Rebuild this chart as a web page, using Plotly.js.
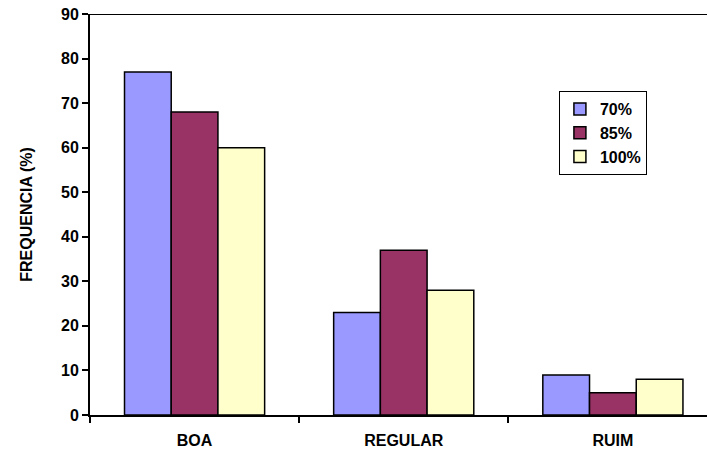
<!DOCTYPE html>
<html>
<head>
<meta charset="utf-8">
<script src="https://cdn.plot.ly/plotly-3.0.1.min.js"></script>
<style>html,body{margin:0;padding:0;background:#fff;}#chart{width:707px;height:457px;}</style>
</head>
<body>
<div id="chart"></div>
<script>
var categories = ["BOA", "REGULAR", "RUIM"];
var seriesNames = ["70%", "85%", "100%"];
var values70 = [77, 23, 9];
var values85 = [68, 37, 5];
var values100 = [60, 28, 8];
var colors = ["#9999FF", "#993366", "#FFFFCC"];
var yTicks = [0, 10, 20, 30, 40, 50, 60, 70, 80, 90];

var allValues = [values70, values85, values100];
var traces = allValues.map(function (v, i) {
  return {
    type: "bar",
    name: seriesNames[i],
    x: categories,
    y: v,
    marker: { color: colors[i], line: { color: "#000", width: 1.5 } },
    hoverinfo: "none"
  };
});

var font = { family: "Liberation Sans, Arial, sans-serif", size: 16, color: "#000", weight: "bold" };

var layout = {
  width: 707,
  height: 457,
  margin: { l: 90, r: 0, t: 14, b: 42, pad: 0 },
  paper_bgcolor: "#fff",
  plot_bgcolor: "#fff",
  barmode: "group",
  bargap: 0.33,
  bargroupgap: 0,
  font: font,
  showlegend: true,
  legend: {
    x: 0.76, y: 0.808, xanchor: "left", yanchor: "top",
    bordercolor: "#000", borderwidth: 1, bgcolor: "#fff",
    font: { family: "Liberation Sans, Arial, sans-serif", size: 16, color: "#000", weight: "bold" },
    tracegroupgap: 0,
    itemwidth: 30
  },
  xaxis: {
    type: "category",
    range: [-0.5, 2.45],
    showline: true, linecolor: "#000", linewidth: 2,
    ticks: "outside", ticklen: 6, tickwidth: 2, tickcolor: "#000",
    tickson: "boundaries",
    ticklabelstandoff: 10,
    showgrid: false, zeroline: false,
    tickfont: font,
    fixedrange: true
  },
  yaxis: {
    range: [0, 90],
    tickvals: yTicks,
    ticktext: yTicks.map(String),
    showline: true, linecolor: "#000", linewidth: 2,
    ticks: "outside", ticklen: 6, tickwidth: 2, tickcolor: "#000",
    showgrid: false, zeroline: false,
    tickfont: font,
    title: { text: "FREQUENCIA (%)", font: font, standoff: 24 },
    fixedrange: true
  },
  shapes: [{
    type: "line", xref: "paper", yref: "y", x0: 0, x1: 1, y0: 90, y1: 90,
    line: { color: "#000", width: 2 }
  }]
};

Plotly.newPlot("chart", traces, layout, { displayModeBar: false, staticPlot: true });
</script>
</body>
</html>
